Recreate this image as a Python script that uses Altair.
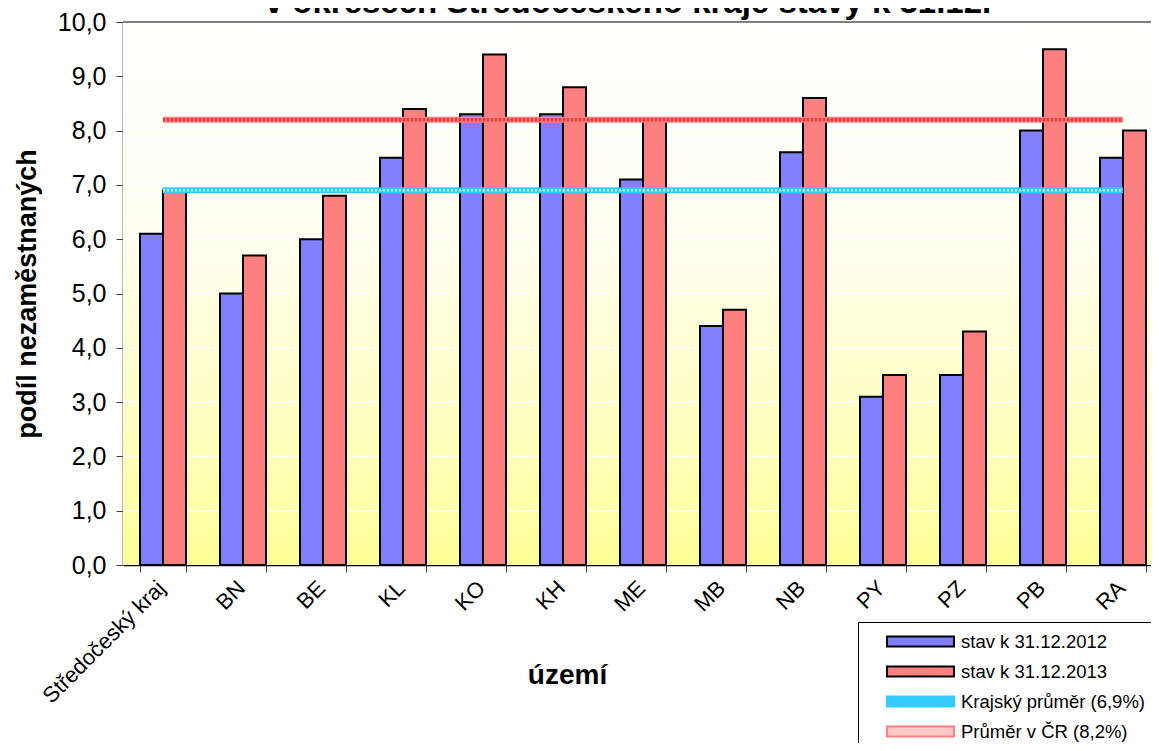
import altair as alt
import pandas as pd

# ---------------- data ----------------
CATEGORIES = ["Středočeský kraj", "BN", "BE", "KL", "KO", "KH", "ME",
              "MB", "NB", "PY", "PZ", "PB", "RA"]
SERIES = ["stav k 31.12.2012", "stav k 31.12.2013",
          "Krajský průměr (6,9%)", "Průměr v ČR (8,2%)"]
V2012 = [6.1, 5.0, 6.0, 7.5, 8.3, 8.3, 7.1, 4.4, 7.6, 3.1, 3.5, 8.0, 7.5]
V2013 = [6.9, 5.7, 6.8, 8.4, 9.4, 8.8, 8.2, 4.7, 8.6, 3.5, 4.3, 9.5, 8.0]
KRAJ_AVG = 6.9
CR_AVG = 8.2
Y_TICKS = [0, 1, 2, 3, 4, 5, 6, 7, 8, 9, 10]
TITLE = "v okresech Středočeského kraje stavy k 31.12."
Y_TITLE = "podíl nezaměstnaných"
X_TITLE = "území"

FILL_COLORS = ["#8080FF", "#FF8080", "#33CCFF", "#FFC8C8"]
STROKE_COLORS = ["#000000", "#000000", "#33CCFF", "#FF8080"]

n = len(CATEGORIES)
bars_df = pd.DataFrame({
    "uzemi": CATEGORIES * 2,
    "serie": [SERIES[0]] * n + [SERIES[1]] * n,
    "hodnota": V2012 + V2013,
})
lines_df = pd.DataFrame({
    "uzemi": CATEGORIES * 2,
    "serie": [SERIES[2]] * n + [SERIES[3]] * n,
    "hodnota": [KRAJ_AVG] * n + [CR_AVG] * n,
})
grid_df = pd.DataFrame({"hodnota": Y_TICKS[1:-1]})

FONT = "Liberation Sans"

# ---------------- encodings ----------------
x_scale = alt.Scale(domain=CATEGORIES, range=[0, 1040],
                    paddingInner=0.425, paddingOuter=0.2125)
x_enc = alt.X(
    "uzemi:N", sort=CATEGORIES, scale=x_scale,
    axis=alt.Axis(
        title=X_TITLE, titleFontSize=28, titleFontWeight="bold", titleFont=FONT,
        titleX=444, titleY=110, titleBaseline="middle",
        labelAngle=-45, labelFontSize=22, labelFont=FONT, labelColor="black",
        labelPadding=5, labelOffset=-9, tickBand="extent", tickSize=7,
        tickColor="#404040", domainColor="#000000", domainWidth=1.5, grid=False,
    ),
)
y_scale = alt.Scale(domain=[0, 10], nice=False, zero=True)
y_enc = alt.Y(
    "hodnota:Q", scale=y_scale,
    axis=alt.Axis(
        title=Y_TITLE, titleFontSize=27, titleFontWeight="bold", titleFont=FONT,
        titlePadding=16, titleColor="black",
        values=Y_TICKS, labelExpr="replace(format(datum.value, '.1f'), '.', ',')",
        labelFontSize=25, labelFont=FONT, labelColor="black", labelPadding=10,
        tickSize=7, tickColor="#404040", domainColor="#707070", domainWidth=2,
        grid=False,
    ),
)

fill_scale = alt.Scale(domain=SERIES, range=FILL_COLORS)
stroke_scale = alt.Scale(domain=SERIES, range=STROKE_COLORS)

legend = alt.Legend(
    title=None, orient="none", legendX=735, legendY=600, direction="vertical",
    symbolType="M-4,-0.6H4V0.6H-4Z", symbolSize=280, symbolStrokeWidth=2,
    symbolOpacity=1, labelFont=FONT, labelFontSize=18.5, labelColor="black",
    labelLimit=400, fillColor="white", strokeColor="black", padding=10,
    rowPadding=11, symbolOffset=43, labelOffset=31,
)

# ---------------- layers ----------------
gradient = alt.LinearGradient(
    gradient="linear", x1=0, x2=0, y1=0, y2=1,
    stops=[
        alt.GradientStop(color="#FFFFFF", offset=0),
        alt.GradientStop(color="#FFFFF0", offset=0.4),
        alt.GradientStop(color="#FFFFC0", offset=0.75),
        alt.GradientStop(color="#FFFF99", offset=1),
    ],
)
background = alt.Chart(alt.Data(values=[{}])).mark_rect(fill=gradient).encode(
    x=alt.value(0), x2=alt.value("width"), y=alt.value(0), y2=alt.value("height")
)

grid = alt.Chart(grid_df).mark_rule(color="white", strokeWidth=1.5).encode(y=y_enc)

top_border = alt.Chart(alt.Data(values=[{}])).mark_rule(
    color="#808080", strokeWidth=2
).encode(y=alt.datum(Y_TICKS[-1], scale=y_scale))

bars = alt.Chart(bars_df).mark_bar(strokeWidth=2, fillOpacity=1).encode(
    x=x_enc,
    xOffset=alt.XOffset("serie:N", sort=SERIES[:2], scale=alt.Scale(domain=SERIES[:2])),
    y=y_enc,
    fill=alt.Fill("serie:N", scale=fill_scale, legend=legend),
    stroke=alt.Stroke("serie:N", scale=stroke_scale, legend=legend),
)

avg_lines = alt.Chart(lines_df).mark_line(strokeWidth=6).encode(
    x=x_enc, y=y_enc,
    stroke=alt.Stroke("serie:N", scale=stroke_scale, legend=legend),
)

dots_kraj = alt.Chart(lines_df).transform_filter(
    alt.datum.serie == SERIES[2]
).mark_line(strokeWidth=2.5, strokeDash=[2, 2], color="white", strokeOpacity=0.7).encode(
    x=x_enc, y=y_enc
)
dots_cr = alt.Chart(lines_df).transform_filter(
    alt.datum.serie == SERIES[3]
).mark_line(strokeWidth=3.5, strokeDash=[2, 2], color="#FF2020", strokeOpacity=0.9).encode(
    x=x_enc, y=y_enc
)

# chart title (its upper part lies above the page, as in the reference)
title_text = alt.Chart(alt.Data(values=[{"t": TITLE}])).mark_text(
    font=FONT, fontSize=33, fontWeight="bold", color="black",
    align="center", baseline="alphabetic",
).encode(text="t:N", x=alt.value(505), y=alt.value(-9))

chart = alt.layer(
    background, grid, top_border, bars, avg_lines, dots_kraj, dots_cr, title_text
).properties(
    width=1028,
    height=543,
    padding={"left": 115, "top": 14, "right": 0, "bottom": 178},
    autosize=alt.AutoSizeParams(type="none"),
).configure_view(stroke="transparent").configure(background="white")

chart.save("out.html", embed_options={"renderer": "svg", "actions": False})
